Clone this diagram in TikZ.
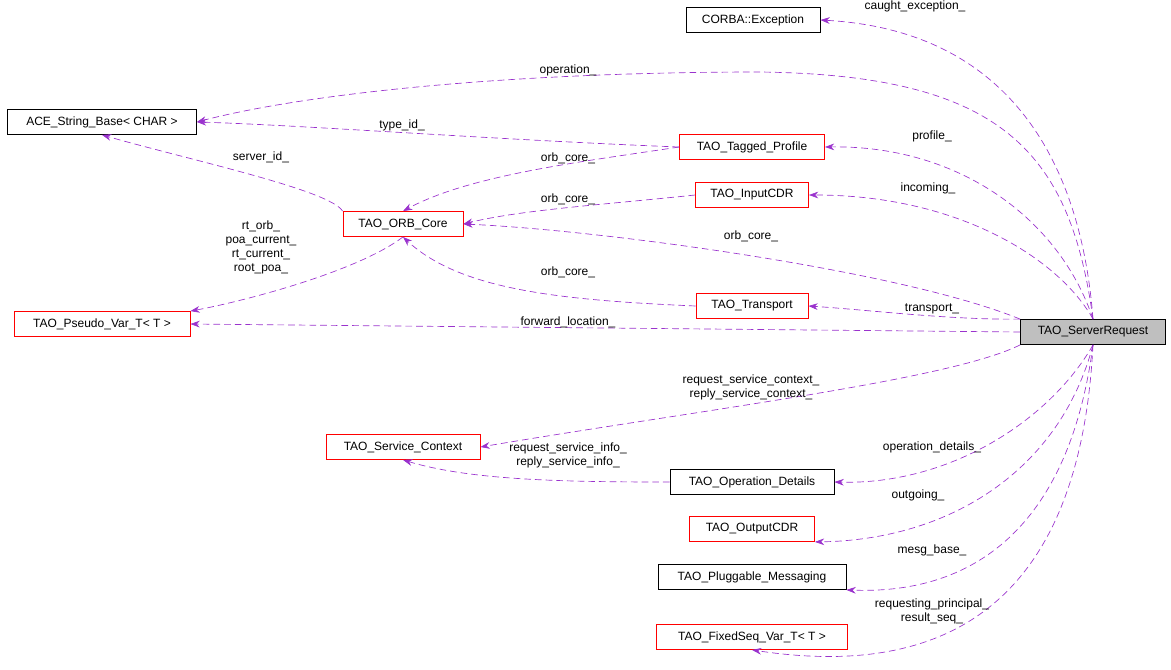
\documentclass[tikz,border=0pt]{standalone}
\usepackage{fontspec}
\setmainfont{Liberation Sans}
\usetikzlibrary{arrows.meta}
\definecolor{edgecol}{HTML}{9A32CD}
\begin{document}
\begin{tikzpicture}[x=0.75pt,y=-0.75pt]
\tikzset{every node/.style={font=\fontsize{9}{10.5}\selectfont,align=center}}
\tikzset{cls/.style={draw=black,line width=0.6pt,inner sep=0pt,minimum height=18.75pt}}
\tikzset{redcls/.style={cls,draw=red}}
\tikzset{use/.style={draw=edgecol,dash pattern=on 5pt off 3pt,line width=0.5pt,-{Stealth[length=7pt,width=5pt]}}}
\tikzset{lbl/.style={inner sep=1pt}}
\useasboundingbox (0,0) rectangle (1171,669);
% classes
\node[cls,minimum width=100.5pt] (exc) at (753,20) {CORBA::Exception};
\node[cls,minimum width=141.75pt] (str) at (102,122) {ACE\_String\_Base< CHAR >};
\node[redcls,minimum width=108.75pt] (prof) at (752,147) {TAO\_Tagged\_Profile};
\node[redcls,minimum width=84.75pt] (incdr) at (752,195) {TAO\_InputCDR};
\node[redcls,minimum width=90pt] (orb) at (403,224) {TAO\_ORB\_Core};
\node[redcls,minimum width=132pt] (pvar) at (102,324) {TAO\_Pseudo\_Var\_T< T >};
\node[redcls,minimum width=84pt] (trans) at (752,306) {TAO\_Transport};
\node[cls,fill=black!25,minimum width=108.75pt] (sr) at (1093,332) {TAO\_ServerRequest};
\node[redcls,minimum width=115.5pt] (sctx) at (403,447) {TAO\_Service\_Context};
\node[cls,minimum width=123pt] (opd) at (752,482) {TAO\_Operation\_Details};
\node[redcls,minimum width=93.75pt] (outcdr) at (752,529) {TAO\_OutputCDR};
\node[cls,minimum width=141pt] (msg) at (752,577) {TAO\_Pluggable\_Messaging};
\node[redcls,minimum width=143.25pt] (fseq) at (752,637) {TAO\_FixedSeq\_Var\_T< T >};
% edges from the server request
\draw[use] (sr.north) .. controls (1080,150) and (1000,30) .. (exc.east);
\node[lbl] (l1) at (915,6) {caught\_exception\_};
\draw[use] (sr.north) .. controls (1070,150) and (1000,75) .. (760,72) .. controls (500,72) and (300,95) .. (str.east);
\node[lbl] (l2) at (568,70) {operation\_};
\draw[use] (sr.north) .. controls (1060,220) and (960,145) .. (prof.east);
\node[lbl] (l3) at (932,136) {profile\_};
\draw[use] (sr.north) .. controls (1060,260) and (960,195) .. (incdr.east);
\node[lbl] (l4) at (928,188) {incoming\_};
\draw[use] (sr.north west) .. controls (900,270) and (600,230) .. (orb.east);
\node[lbl] (l5) at (751,236) {orb\_core\_};
\draw[use] (sr.north west) .. controls (950,320) and (870,310) .. (trans.east);
\node[lbl] (l6) at (932,309) {transport\_};
\draw[use] (sr.west) -- (pvar.east);
\node[lbl] (l7) at (568,322) {forward\_location\_};
\draw[use] (sr.south west) .. controls (950,380) and (700,410) .. (sctx.east);
\node[lbl] (l8) at (751,387) {request\_service\_context\_\\reply\_service\_context\_};
\draw[use] (sr.south) .. controls (1050,420) and (950,485) .. (opd.east);
\node[lbl] (l9) at (932,447) {operation\_details\_};
\draw[use] (sr.south) .. controls (1060,470) and (950,540) .. (outcdr.south east);
\node[lbl] (l10) at (918,495) {outgoing\_};
\draw[use] (sr.south) .. controls (1070,520) and (980,595) .. (msg.south east);
\node[lbl] (l11) at (932,550) {mesg\_base\_};
\draw[use] (sr.south) .. controls (1080,600) and (950,680) .. (fseq.south);
\node[lbl] (l12) at (932,611) {requesting\_principal\_\\result\_seq\_};
% other edges
\draw[use] (prof.west) .. controls (500,140) and (300,125) .. (str.east);
\node[lbl] (l13) at (402,125) {type\_id\_};
\draw[use] (prof.west) .. controls (580,162) and (470,175) .. (orb.north);
\node[lbl] (l14) at (568,158) {orb\_core\_};
\draw[use] (incdr.west) .. controls (600,205) and (520,210) .. (orb.east);
\node[lbl] (l15) at (568,199) {orb\_core\_};
\draw[use] (orb.north west) .. controls (330,190) and (190,160) .. (str.south);
\node[lbl] (l16) at (261,157) {server\_id\_};
\draw[use] (orb.south) .. controls (360,270) and (250,300) .. (pvar.north east);
\node[lbl] (l17) at (261,247) {rt\_orb\_\\poa\_current\_\\rt\_current\_\\root\_poa\_};
\draw[use] (trans.west) .. controls (560,300) and (460,290) .. (orb.south);
\node[lbl] (l18) at (568,272) {orb\_core\_};
\draw[use] (opd.west) .. controls (560,482) and (470,480) .. (sctx.south);
\node[lbl] (l19) at (568,455) {request\_service\_info\_\\reply\_service\_info\_};
\end{tikzpicture}
\end{document}
